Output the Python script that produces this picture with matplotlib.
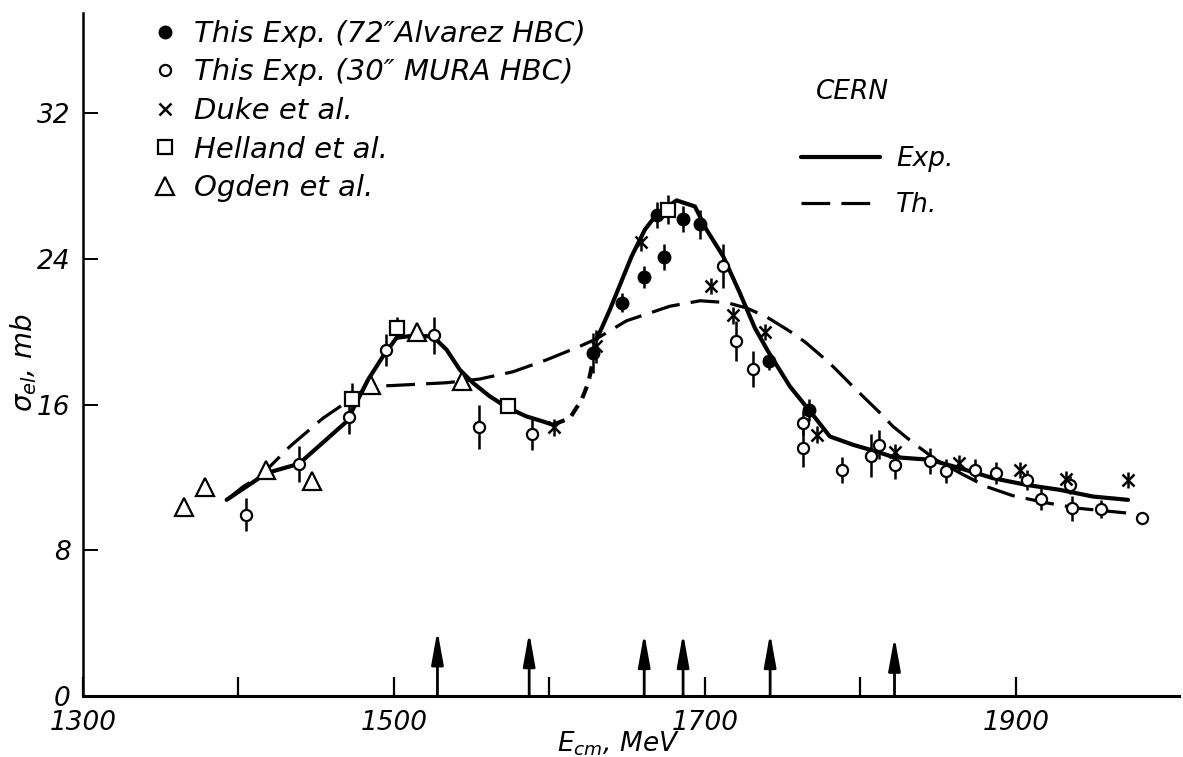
import matplotlib.pyplot as plt

# ::: Elastic cross section vs. centre-of-mass energy (MeV, mb) :::
alvarez_E   = [1628, 1647, 1661, 1669, 1674, 1686, 1697, 1741, 1767]
alvarez_s   = [18.85, 21.6, 23.0, 26.4, 24.1, 26.2, 25.9, 18.4, 15.7]
alvarez_err = [1.1, 0.5, 0.6, 0.7, 0.7, 0.7, 0.8, 0.5, 0.6]

mura_E   = [1405, 1439, 1471, 1495, 1526, 1555, 1588.5, 1712, 1720, 1731, 1763, 1763, 1788,
            1807, 1812, 1822, 1845, 1855, 1874, 1887, 1907, 1916.5, 1935, 1936, 1955, 1981.5]
mura_s   = [9.95, 12.75, 15.3, 19.0, 19.8, 14.75, 14.4, 23.6, 19.5, 17.96, 15.0, 13.6, 12.4,
            13.2, 13.8, 12.7, 12.9, 12.35, 12.4, 12.25, 11.85, 10.8, 11.6, 10.3, 10.25, 9.75]
mura_err = [0.9, 1.0, 0.9, 0.9, 1.0, 1.2, 0.9, 1.2, 1.1, 1.0, 0.65, 1.0, 0.7,
            1.2, 0.8, 0.8, 0.7, 0.65, 0.6, 0.6, 0.55, 0.6, 0.5, 0.7, 0.5, 0.0]

duke_E   = [1603, 1630, 1659, 1704, 1718, 1738.5, 1772, 1822, 1863.5, 1902.5, 1932, 1972]
duke_s   = [14.75, 19.2, 24.9, 22.5, 20.9, 20.0, 14.35, 13.4, 12.8, 12.4, 11.9, 11.85]
duke_err = [0.45, 0.9, 0.45, 0.45, 0.45, 0.45, 0.45, 0.45, 0.45, 0.45, 0.45, 0.45]

helland_E   = [1473, 1502, 1573.5, 1676]
helland_s   = [16.3, 20.2, 15.9, 26.7]
helland_err = [0.9, 0.6, 0.0, 0.8]

ogden_E = [1365, 1378.5, 1418, 1447.5, 1485, 1515, 1543.5]
ogden_s = [10.4, 11.5, 12.4, 11.8, 17.1, 20.0, 17.3]

# ::: CERN curves :::
exp_low_E = [1392.4, 1418.1, 1438.9, 1469.6, 1483.3, 1492.9, 1501.7, 1512.2, 1525.1, 1533.9,
             1542.4, 1551.0, 1561.7, 1573.5, 1585.3, 1596.0, 1602.3]
exp_low_s = [10.77, 12.24, 12.75, 15.07, 17.36, 18.64, 19.67, 19.78, 19.74, 19.01,
             17.91, 17.18, 16.45, 15.81, 15.35, 15.07, 14.89]
exp_mid_E = [1602.3, 1613.2, 1620.7, 1625.0, 1628.2, 1630.3]
exp_mid_s = [14.89, 15.26, 16.26, 17.18, 18.46, 19.56]
exp_high_E = [1630.3, 1638.9, 1652.9, 1661.4, 1668.9, 1681.8, 1693.6, 1701.1, 1711.8, 1722.5,
              1732.2, 1740.7, 1754.7, 1768.6, 1780.4, 1795.4, 1810.4, 1821.1, 1844.7, 1864.0,
              1885.4, 1906.9, 1928.3, 1949.7, 1972.2]
exp_high_s = [19.56, 21.21, 24.14, 25.6, 26.43, 27.21, 26.88, 25.6, 24.14, 22.13,
              20.2, 18.92, 17.0, 15.53, 14.25, 13.79, 13.42, 13.12, 12.97, 12.51,
              11.96, 11.59, 11.32, 10.95, 10.77]

th_E = [1392.4, 1403.1, 1413.8, 1433.1, 1454.5, 1471.7, 1485.0, 1500, 1534, 1555, 1576.5,
        1598, 1619.6, 1630, 1649.6, 1677.5, 1697, 1714, 1727, 1740, 1757, 1765, 1780,
        1797.5, 1812, 1821, 1834, 1849, 1864, 1881, 1898, 1920, 1941, 1971]
th_s = [10.77, 11.5, 12.05, 13.7, 15.26, 16.26, 17.0, 17.05, 17.2, 17.4, 17.8,
        18.45, 19.2, 19.6, 20.6, 21.4, 21.7, 21.6, 21.3, 20.8, 19.9, 19.4, 18.3,
        16.8, 15.6, 14.8, 13.9, 12.95, 12.25, 11.5, 11.0, 10.6, 10.3, 10.05]

# ::: Resonance positions marked on the energy axis :::
arrow_E   = [1528, 1587, 1661, 1686, 1742, 1822]
arrow_top = [3.6, 3.5, 3.45, 3.45, 3.45, 3.25]

x_ticks  = [1300, 1400, 1500, 1600, 1700, 1800, 1900]
x_labels = ['1300', '', '1500', '', '1700', '', '1900']
y_ticks  = [0, 8, 16, 24, 32]

plt.rcParams['font.family'] = 'DejaVu Sans'
plt.rcParams['font.style'] = 'italic'
plt.rcParams['mathtext.fontset'] = 'dejavusans'

W, H = 1183, 757
fig = plt.figure(figsize=(W / 100, H / 100), dpi=100)
ax = fig.add_axes([83 / W, 61 / H, (1179 - 83) / W, (696 - 13) / H])
ax.set_xlim(1300, 2005)
ax.set_ylim(0, 37.5)

for side in ('top', 'right'):
    ax.spines[side].set_visible(False)
ax.spines['left'].set_linewidth(1.8)
ax.spines['bottom'].set_linewidth(2.2)

ax.set_xticks(x_ticks)
ax.set_xticklabels(x_labels)
ax.set_yticks(y_ticks)
ax.tick_params(axis='x', direction='in', length=14, width=1.6, pad=10, labelsize=19)
ax.tick_params(axis='y', direction='in', length=11, width=1.4, pad=9, labelsize=19)

# ::: Curves :::
ax.plot(exp_low_E, exp_low_s, color='k', lw=3.0, solid_capstyle='round', zorder=2)
ax.plot(exp_mid_E, exp_mid_s, color='k', lw=3.0, ls=(0, (3, 2)), zorder=2)
exp_line, = ax.plot(exp_high_E, exp_high_s, color='k', lw=3.0, solid_capstyle='round', zorder=2)
th_line, = ax.plot(th_E, th_s, color='k', lw=2.3, ls=(0, (9, 3.5)), zorder=2)

# ::: Error bars :::
for E, s, err in [(alvarez_E, alvarez_s, alvarez_err), (mura_E, mura_s, mura_err),
                  (duke_E, duke_s, duke_err), (helland_E, helland_s, helland_err)]:
    ax.errorbar(E, s, yerr=err, fmt='none', ecolor='k', elinewidth=1.8, capsize=0, zorder=3)

# ::: Markers :::
h_alv, = ax.plot(alvarez_E, alvarez_s, 'o', ms=9, color='k', zorder=4)
h_mura, = ax.plot(mura_E, mura_s, 'o', ms=8, mfc='white', mec='k', mew=1.6, zorder=4)
h_duke, = ax.plot(duke_E, duke_s, 'x', ms=9, mec='k', mew=1.8, zorder=4)
h_hel, = ax.plot(helland_E, helland_s, 's', ms=10, mfc='white', mec='k', mew=1.6, zorder=4)
h_ogd, = ax.plot(ogden_E, ogden_s, '^', ms=13, mfc='white', mec='k', mew=1.6, zorder=4)

# ::: Arrows :::
for E, top in zip(arrow_E, arrow_top):
    ax.annotate('', xy=(E, top), xytext=(E, 0),
                arrowprops=dict(arrowstyle='-|>,head_length=1.0,head_width=0.18',
                                mutation_scale=20, lw=2.0, color='k', shrinkA=0, shrinkB=0))

# ::: Legends :::
leg1 = ax.legend([h_alv, h_mura, h_duke, h_hel, h_ogd],
                 ['This Exp. (72\u2033Alvarez HBC)', 'This Exp. (30\u2033 MURA HBC)',
                  'Duke et al.', 'Helland et al.', 'Ogden et al.'],
                 loc='upper left', bbox_to_anchor=(152 / W, 1 - 20 / H),
                 bbox_transform=fig.transFigure, frameon=False, numpoints=1,
                 handlelength=0.9, handletextpad=0.55, labelspacing=0.36,
                 borderpad=0, borderaxespad=0, fontsize=21)
ax.add_artist(leg1)
ax.legend([exp_line, th_line], ['Exp.', 'Th.'], loc='upper left',
          bbox_to_anchor=(801 / W, 1 - 146 / H), bbox_transform=fig.transFigure,
          frameon=False, handlelength=3.0, handletextpad=0.6, labelspacing=0.75,
          borderpad=0, borderaxespad=0, fontsize=19)
fig.text(816 / W, 1 - 92 / H, 'CERN', fontsize=19, va='center', ha='left')

# ::: Axis labels :::
fig.text(24 / W, 1 - 363 / H, r'$\sigma_{el}$, mb', rotation=90, fontsize=20,
         ha='center', va='center')
fig.text(618 / W, 1 - 744 / H, r'$E_{cm}$, MeV', fontsize=19, ha='center', va='center')

fig.savefig('out.png', dpi=100)
